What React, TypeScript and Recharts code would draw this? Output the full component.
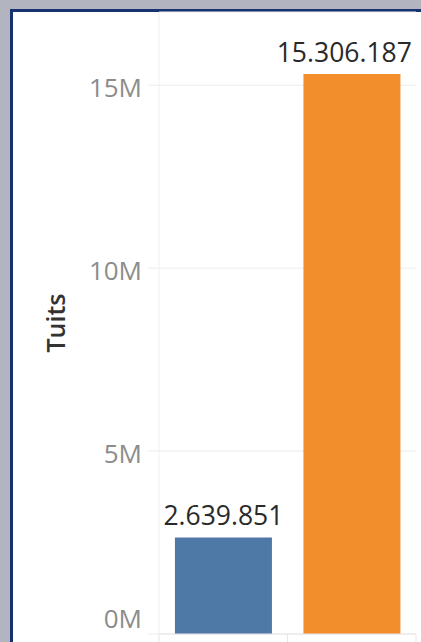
import React from 'react';
import { BarChart, Bar, XAxis, YAxis, CartesianGrid, Cell, LabelList } from 'recharts';

const categories = ['Grupo A', 'Grupo B'];
const tuits = [2639851, 15306187];
const barColors = ['#4e79a7', '#f28e2b'];
const yTicks = [0, 5000000, 10000000, 15000000];
const yTickLabels = ['0M', '5M', '10M', '15M'];
const yDomainMax = 17000000;
const yTitle = 'Tuits';

const data = categories.map((c, i) => ({ name: c, value: tuits[i] }));

const W = 421;
const H = 642;
const M = { top: 12, right: 5, bottom: 0, left: 0 };
const Y_W = 159;
const X_H = 8;
const PLOT_RIGHT = W - M.right;
const FONT = '"Open Sans", "DejaVu Sans", sans-serif';
const LABEL_FS = 26.5;

const fmt = (v: number) => String(Math.round(v)).replace(/\B(?=(\d{3})+(?!\d))/g, '.');

const YTick = (props: any) => {
  const { x, y, payload } = props;
  const idx = yTicks.indexOf(payload.value);
  const label = idx >= 0 ? yTickLabels[idx] : `${payload.value / 1e6}M`;
  const shift = payload.value === 0 ? -15 : 3;
  return (
    <text x={x} y={y + shift} dy="0.355em" textAnchor="end" fill="#8c8c8c" fontSize={26} fontFamily={FONT}>
      {label}
    </text>
  );
};

const XTick = (props: any) => {
  const { x, y, index, width } = props;
  const band = width / categories.length;
  const left = x - band / 2;
  return (
    <g>
      <line x1={left} x2={left} y1={y} y2={y + 9} stroke="#e6e6e6" strokeWidth={1} />
      {index === categories.length - 1 && (
        <line x1={x + band / 2} x2={x + band / 2} y1={y} y2={y + 9} stroke="#e6e6e6" strokeWidth={1} />
      )}
    </g>
  );
};

const ValueLabel = (props: any) => {
  const { x, y, width, value } = props;
  const s = fmt(value);
  const digits = s.replace(/\./g, '').length;
  const dots = s.length - digits;
  const tw = LABEL_FS * (digits * 0.572 + dots * 0.267);
  let cx = x + width / 2;
  if (cx + tw / 2 > PLOT_RIGHT - 4) cx = PLOT_RIGHT - 4 - tw / 2;
  return (
    <text x={cx} y={y - 12} textAnchor="middle" fill="#2a2a2a" fontSize={LABEL_FS} fontFamily={FONT}>
      {s}
    </text>
  );
};

const YTitle = (props: any) => {
  const { viewBox } = props;
  const cx = viewBox.x + 56;
  const cy = viewBox.y + viewBox.height / 2;
  return (
    <text
      x={cx}
      y={cy}
      dy="0.355em"
      transform={`rotate(-90, ${cx}, ${cy})`}
      textAnchor="middle"
      fill="#333333"
      fontSize={25}
      fontWeight={600}
      fontFamily={FONT}
    >
      {yTitle}
    </text>
  );
};

export default function App() {
  return (
    <div style={{ position: 'absolute', left: 0, top: 0, width: W, height: H, background: '#b2b4bf', overflow: 'hidden' }}>
      <div
        style={{
          position: 'absolute',
          left: 10,
          top: 9,
          width: 500,
          height: 700,
          border: '3px solid #17336f',
          background: '#ffffff',
        }}
      />
      <div style={{ position: 'absolute', left: 0, top: 0 }}>
        <BarChart width={W} height={H} data={data} margin={M} barCategoryGap="12.4%">
          <CartesianGrid horizontal={true} vertical={false} stroke="#ececec" strokeWidth={1} />
          <XAxis
            dataKey="name"
            height={X_H}
            axisLine={{ stroke: '#e6e6e6' }}
            tickLine={false}
            tickSize={0}
            tickMargin={0}
            tick={<XTick />}
            interval={0}
          />
          <YAxis
            width={Y_W}
            domain={[0, yDomainMax]}
            ticks={yTicks}
            interval={0}
            axisLine={{ stroke: '#f0f0f0' }}
            tickLine={{ stroke: '#ececec' }}
            tickSize={11}
            tickMargin={6}
            tick={<YTick />}
            label={<YTitle />}
          />
          <Bar dataKey="value" isAnimationActive={false}>
            {data.map((d, i) => (
              <Cell key={d.name} fill={barColors[i]} />
            ))}
            <LabelList dataKey="value" content={<ValueLabel />} />
          </Bar>
        </BarChart>
      </div>
    </div>
  );
}
